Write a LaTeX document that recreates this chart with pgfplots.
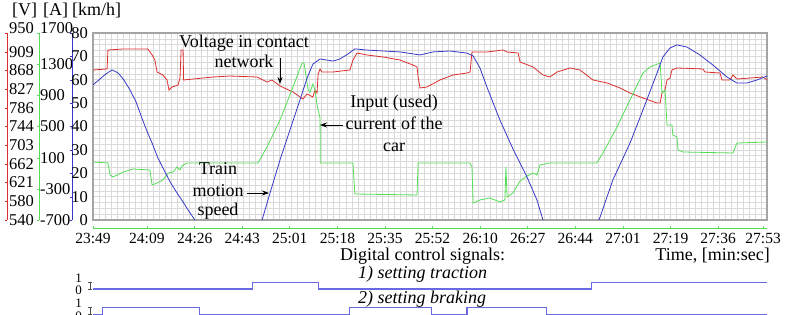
\documentclass[border=0pt]{standalone}
\usepackage{pgfplots}
\pgfplotsset{compat=1.18}
\usepackage{fontspec}
\setmainfont{Liberation Serif}
\usetikzlibrary{arrows.meta}
\definecolor{cred}{RGB}{222,45,45}
\definecolor{cgreen}{RGB}{85,222,85}
\definecolor{cblue}{RGB}{55,55,200}
\definecolor{csig}{RGB}{105,105,225}
\definecolor{cgrid}{RGB}{218,218,218}
\definecolor{cframe}{RGB}{165,165,165}
\newcommand{\tickfont}{\fontsize{15.5}{16}\selectfont}
\newcommand{\sigfont}{\fontsize{13}{14}\selectfont}
\newcommand{\ytickfont}{\fontsize{16.5}{17}\selectfont}
\newcommand{\txtfont}{\fontsize{18}{20}\selectfont}
\newcommand{\up}[2]{\raisebox{#1}[\height][\depth]{#2}}
\pgfplotsset{
  base/.style={scale only axis, width=674pt, height=187pt, at={(93pt,95pt)},
    anchor=south west, xmin=0, xmax=244,
    /pgf/number format/assume math mode=true},
  scaleax/.style={base, axis x line=none, axis y line*=left,
    major tick length=2pt, tick align=outside,
    yticklabel style={font=\ytickfont, inner sep=1pt}},
  sigax/.style={scale only axis, width=674pt, anchor=south west, xmin=0, xmax=244,
    ymin=0, ymax=1, axis x line=none, axis y line*=left,
    y axis line style={draw=black!70, xshift=-3pt, -, line width=0.6pt},
    ytick={0,1}, ytick style={draw=black!70, xshift=-3pt, line width=0.6pt},
    tick align=center, major tick length=4pt,
    yticklabels={\up{-1.5pt}{0},\up{4.5pt}{1}},
    yticklabel style={font=\sigfont, anchor=east, xshift=-9pt, inner sep=0pt},
    clip=false},
}
\begin{document}
\begin{tikzpicture}
\path[use as bounding box] (0,0) rectangle (787pt,315pt);
% grid and frame
\begin{axis}[scale only axis, width=674pt, height=187pt, at={(93pt,95pt)}, anchor=south west,
  xmin=0, xmax=112, ymin=0, ymax=32, xtick={0,...,112}, ytick={0,...,32},
  xticklabels={}, yticklabels={}, grid=major,
  major grid style={draw=cgrid, line width=0.5pt},
  tick style={draw=none}, axis line style={draw=cframe, line width=1.6pt}]
\end{axis}
% time axis
\begin{axis}[base, ymin=0, ymax=1, axis y line=none, axis x line*=bottom,
  x axis line style={draw=cgreen, line width=1pt, yshift=-9pt, -},
  xtick={0,19.5,36.8,54.0,71.2,88.5,105.7,122.9,140.2,157.4,174.6,191.9,209.1,226.3,242.6},
  xticklabels={23:49,24:09,24:26,24:43,25:01,25:18,25:35,25:52,26:10,26:27,26:44,27:01,27:19,27:36,27:53},
  xtick style={draw=cgreen, yshift=-9pt, line width=0.6pt},
  tick align=inside, major tick length=3pt,
  xticklabel style={font=\tickfont, anchor=base, yshift=-23.5pt, inner sep=0pt}]
\end{axis}
% voltage
\begin{axis}[scaleax, ymin=540, ymax=950,
  y axis line style={draw=cred, xshift=-86pt, -, line width=0.8pt},
  ytick style={draw=cred, xshift=-86pt},
  ytick={540,581,622,663,704,745,786,827,868,909,950},
  yticklabels={540,580,621,662,703,744,786,827,868,909,\up{5pt}{950}},
  yticklabel style={anchor=west, xshift=-83pt}]
\addplot[cred, line width=0.8pt] table {
0 868.9
5.1 871.1
5.4 912.7
10.9 914.9
19.9 914.9
21.4 901.8
22.4 890.8
23.2 864.5
25.3 857.9
26.8 847.0
27.5 825.0
28.6 831.6
30.8 836.0
31.5 851.3
31.9 912.7
32.6 912.7
32.8 847.0
36.2 849.1
43.4 853.5
49.6 855.7
59.4 853.5
63.0 842.6
64.8 847.0
67.7 833.8
72.4 820.6
76.0 805.3
77.5 816.3
79.6 809.7
80.4 825.0
81.1 818.4
81.5 860.1
82.2 871.1
82.9 864.5
86.9 864.5
93.0 868.9
94.1 890.8
95.6 906.1
99.2 901.8
105.0 897.4
111.1 890.8
115.8 879.8
117.3 875.5
117.7 853.5
118.4 829.4
120.9 831.6
125.6 847.0
130.3 857.9
135.4 862.3
136.5 864.5
137.2 908.3
142.6 908.3
148.4 912.7
149.9 908.3
153.9 906.1
154.6 886.4
159.3 875.5
162.9 857.9
165.4 853.5
168.0 864.5
172.7 873.3
176.3 868.9
181.0 847.0
186.1 840.4
190.8 829.4
194.4 818.4
199.1 807.5
204.2 796.5
205.3 796.5
206.0 818.4
207.1 825.0
207.8 847.0
208.9 851.3
209.6 868.9
211.4 873.3
220.8 871.1
221.5 864.5
227.0 862.3
227.7 847.0
230.6 847.0
231.7 857.9
233.1 849.1
242.5 853.5
244.0 847.0
};
\end{axis}
% current
\begin{axis}[scaleax, ymin=-700, ymax=1700,
  y axis line style={draw=cgreen, xshift=-54pt, -, line width=0.8pt},
  ytick style={draw=cgreen, xshift=-54pt},
  ytick={-700,-300,100,500,900,1300,1700},
  yticklabels={-700,-300,100,500,900,1300,\up{5pt}{1700}},
  yticklabel style={anchor=west, xshift=-52pt}]
\addplot[cgreen, line width=0.8pt] table {
0 44.4
5.4 31.5
6.2 -122.5
7.2 -148.1
10.9 -84.0
14.5 -45.5
20.6 -58.3
21.4 -250.8
23.2 -225.1
25.3 -186.6
27.2 -96.8
29.0 -84.0
30.4 -19.8
31.5 -58.3
32.2 -7.0
34.0 31.5
59.7 31.5
63.0 236.9
67.7 583.4
72.4 1006.9
75.7 1314.9
76.4 1314.9
77.9 968.4
78.6 942.8
79.6 1045.4
80.4 968.4
81.1 775.9
81.5 711.7
82.2 609.1
82.3 31.5
94.1 31.5
94.8 -366.3
117.3 -379.1
117.7 31.5
136.5 31.5
137.2 -19.8
137.6 -481.8
140.1 -443.3
143.7 -417.7
147.3 -469.0
149.1 -443.3
149.5 -19.8
149.9 -404.8
152.0 -353.5
154.6 -199.5
157.1 -135.3
159.3 -96.8
160.7 -122.5
161.8 5.9
165.4 31.5
182.4 31.5
184.6 159.9
189.7 493.6
194.4 840.1
199.1 1186.6
201.6 1263.6
205.3 1314.9
206.0 929.9
207.1 968.4
207.8 519.2
209.6 519.2
209.9 390.9
211.4 365.2
211.8 198.4
213.6 172.7
231.7 159.9
233.1 288.2
244.0 301.1
};
\end{axis}
% speed
\begin{axis}[scaleax, ymin=0, ymax=80, unbounded coords=jump,
  y axis line style={draw=cblue, xshift=-21pt, -, line width=0.8pt},
  ytick style={draw=cblue, xshift=-21pt},
  ytick={0,10,...,80},
  yticklabels={0,10,20,30,40,50,60,70,80},
  yticklabel style={anchor=east, xshift=-2pt}]
\addplot[cblue, line width=0.8pt] table {
0 57.8
2.5 60.3
4.7 62.5
6.9 64.2
9.1 62.9
11.2 59.9
13.4 55.6
15.6 50.5
17.7 43.6
19.5 38.1
21.4 32.9
23.5 26.5
25.7 21.4
27.9 16.3
30.4 11.6
32.6 7.7
34.4 4.3
36.9 0
nan nan
61.2 0
64.1 11.6
67.7 25.7
71.3 38.5
74.9 51.3
77.5 60.7
79.6 66.7
82.2 68.9
84.7 68.4
86.9 68.0
89.4 68.9
92.3 71.0
94.8 73.2
99.2 72.7
111.1 71.9
118.4 70.6
123.1 71.9
129.2 72.3
135.4 71.4
137.6 70.2
140.1 65.0
142.6 56.9
147.3 42.8
152.0 30.5
157.1 18.4
160.7 8.6
162.9 0
nan nan
183.2 0
185.7 8.6
188.2 17.1
194.4 32.9
199.1 47.1
204.2 62.9
206.3 69.7
208.9 73.6
211.4 74.9
215.0 74.0
219.7 70.6
224.4 66.3
229.5 61.2
233.1 58.6
236.7 58.6
240.4 59.9
244.0 61.6
};
\end{axis}
% digital signals
\begin{axis}[sigax, height=6.7pt, at={(93pt,26pt)}]
\addplot[csig, line width=1.1pt, const plot] table {
0 0
57.9 1
81.5 0
180.6 1
244 1
};
\end{axis}
\begin{axis}[sigax, height=6.6pt, at={(93pt,0.7pt)}]
\addplot[csig, line width=1.1pt, const plot] table {
0 0
3.6 1
38.4 0
92.7 1
122.7 0
135.4 1
164.3 0
244 0
};
\end{axis}
% unit headers
\node[anchor=base west, font=\txtfont, inner sep=0pt] at (12pt,299pt) {[V]};
\node[anchor=base west, font=\txtfont, inner sep=0pt] at (43pt,299pt) {[A]};
\node[anchor=base west, font=\txtfont, inner sep=0pt] at (72pt,299pt) {[km/h]};
% annotations
\begin{scope}[every node/.style={font=\txtfont, inner sep=0pt, anchor=base}]
\node at (244pt,267pt) {Voltage in contact};
\node at (244pt,247pt) {network};
\node at (218pt,140pt) {Train};
\node at (218pt,118pt) {motion};
\node at (218pt,99pt) {speed};
\node at (394pt,207pt) {Input (used)};
\node at (394pt,185pt) {current of the};
\node at (394pt,163pt) {car};
\node[anchor=base west] at (340pt,54pt) {Digital control signals:};
\node[anchor=base east] at (770pt,54pt) {Time, [min:sec]};
\node[anchor=base west] at (358pt,36pt) {\itshape 1) setting traction};
\node[anchor=base west] at (358pt,11pt) {\itshape 2) setting braking};
\end{scope}
\draw[-{Stealth[length=7pt,width=5pt]}, line width=0.8pt] (280pt,257pt) -- (280pt,231pt);
\draw[-{Stealth[length=7pt,width=5pt]}, line width=0.8pt] (247pt,122pt) -- (269pt,122pt);
\draw[-{Stealth[length=7pt,width=5pt]}, line width=0.8pt] (343pt,190pt) -- (320pt,190pt);
\end{tikzpicture}
\end{document}
